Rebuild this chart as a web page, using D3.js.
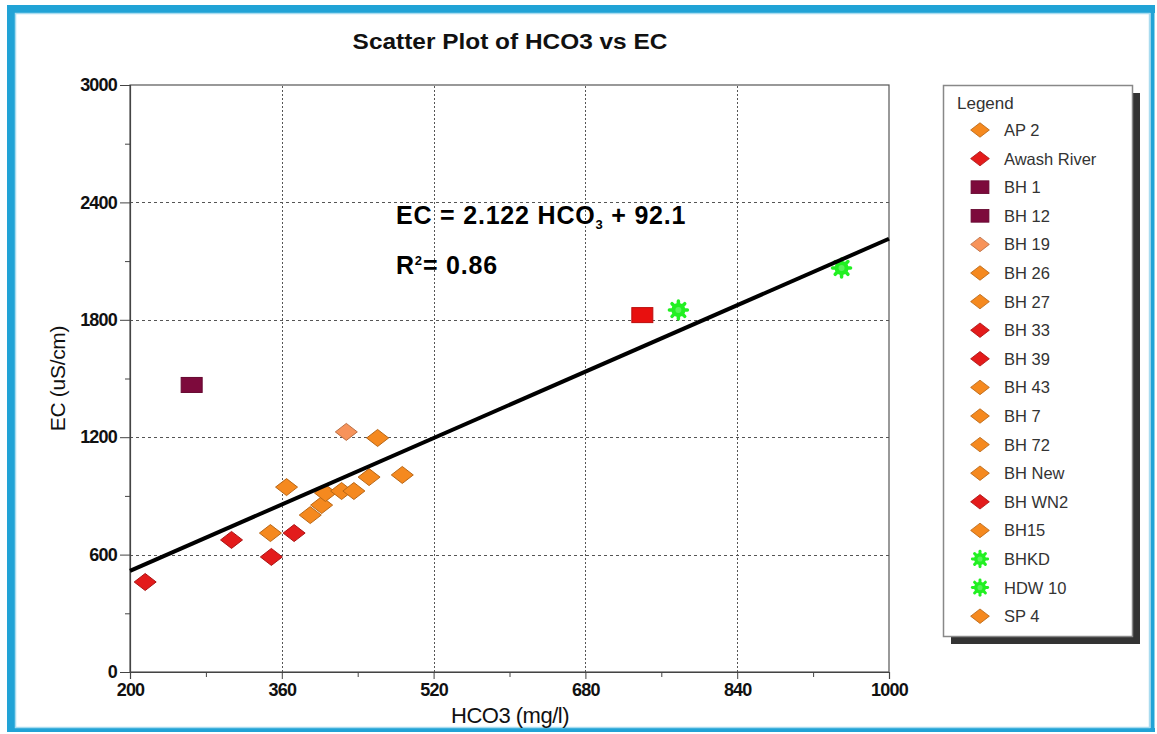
<!DOCTYPE html>
<html>
<head>
<meta charset="utf-8">
<script src="https://cdn.jsdelivr.net/npm/d3@7"></script>
<style>
  html, body { margin: 0; padding: 0; background: #fff; }
  svg { display: block; }
</style>
</head>
<body>
<svg id="chart" width="1157" height="734"></svg>
<script>
// Series shown in the legend, in order, with their marker shape and colour
const seriesNames = ["AP 2", "Awash River", "BH 1", "BH 12", "BH 19", "BH 26", "BH 27", "BH 33",
  "BH 39", "BH 43", "BH 7", "BH 72", "BH New", "BH WN2", "BH15", "BHKD", "HDW 10", "SP 4"];
const seriesShapes = ["diamond", "diamond", "square", "square", "diamond", "diamond", "diamond", "diamond",
  "diamond", "diamond", "diamond", "diamond", "diamond", "diamond", "diamond", "star", "star", "diamond"];
const seriesColors = ["#f5891f", "#e31b1b", "#7d0a3c", "#7d0a3c", "#f7935a", "#f5891f", "#f5891f", "#e31b1b",
  "#e31b1b", "#f5891f", "#f5891f", "#f5891f", "#f5891f", "#e31b1b", "#f5891f", "#22f022", "#22f022", "#f5891f"];

// Sample values: HCO3 (mg/l), EC (uS/cm), marker shape and fill
const hco3 = [216, 307, 349, 373, 348, 365, 390, 402, 406, 423, 436, 452, 487, 428, 461, 265, 740, 778, 950];
const ec = [460, 675, 588, 710, 710, 945, 802, 853, 915, 925, 925, 996, 1007, 1227, 1196, 1467, 1824, 1850, 2065];
const pointShapes = ["diamond", "diamond", "diamond", "diamond", "diamond", "diamond", "diamond", "diamond",
  "diamond", "diamond", "diamond", "diamond", "diamond", "diamond", "diamond", "square", "square", "star", "star"];
const pointColors = ["#e31b1b", "#e31b1b", "#e31b1b", "#e31b1b", "#f5891f", "#f5891f", "#f5891f", "#f5891f",
  "#f5891f", "#f5891f", "#f5891f", "#f5891f", "#f5891f", "#f7935a", "#f5891f", "#7d0a3c", "#e8100f", "#22f022", "#22f022"];

// Axis ticks and the fitted line EC = slope * HCO3 + intercept
const xTicks = [200, 360, 520, 680, 840, 1000];
const xMinorTicks = [280, 440, 600, 760, 920];
const yTicks = [0, 600, 1200, 1800, 2400, 3000];
const yMinorTicks = [300, 900, 1500, 2100, 2700];
const fitSlope = 2.122;
const fitIntercept = 92.1;

const svg = d3.select("#chart");
const sans = "'Liberation Sans', Arial, sans-serif";

const x = d3.scaleLinear().domain([200, 1000]).range([130, 889]);
const y = d3.scaleLinear().domain([0, 3000]).range([672, 85]);

// Page frame
svg.append("rect").attr("x", 0).attr("y", 0).attr("width", 1157).attr("height", 734).attr("fill", "#fff");
const frame = svg.append("g").attr("stroke", "#21a3d6");
frame.append("line").attr("x1", 7).attr("x2", 1155).attr("y1", 9).attr("y2", 9).attr("stroke-width", 8);
frame.append("line").attr("x1", 11).attr("x2", 11).attr("y1", 5).attr("y2", 732).attr("stroke-width", 8);
frame.append("line").attr("x1", 1152.5).attr("x2", 1152.5).attr("y1", 5).attr("y2", 732).attr("stroke-width", 4);
frame.append("line").attr("x1", 7).attr("x2", 1155).attr("y1", 730).attr("y2", 730).attr("stroke-width", 4);
const inner = svg.append("g").attr("stroke", "#a9dcf0").attr("stroke-width", 1.5).attr("fill", "none");
inner.append("rect").attr("x", 15.5).attr("y", 13.5).attr("width", 1134).attr("height", 714);

// Title
svg.append("text").attr("x", 510).attr("y", 49).attr("text-anchor", "middle")
  .attr("font-family", sans).attr("font-weight", "bold").attr("font-size", 22).attr("fill", "#111")
  .attr("transform", "translate(510,0) scale(1.11,1) translate(-510,0)")
  .text("Scatter Plot of HCO3 vs EC");

// Grid lines
const grid = svg.append("g").attr("stroke", "#555").attr("stroke-width", 1);
grid.selectAll(".hg").data(yTicks.filter(d => d > 0 && d < 3000)).join("line")
  .attr("x1", x(200)).attr("x2", x(1000)).attr("y1", d => Math.round(y(d)) + 0.5).attr("y2", d => Math.round(y(d)) + 0.5)
  .attr("stroke-dasharray", "3,3");
grid.selectAll(".vg").data(xTicks.filter(d => d > 200 && d < 1000)).join("line")
  .attr("y1", y(0)).attr("y2", y(3000)).attr("x1", d => Math.round(x(d)) + 0.5).attr("x2", d => Math.round(x(d)) + 0.5)
  .attr("stroke-dasharray", "2,2");

// Plot frame
svg.append("rect").attr("x", x(200)).attr("y", y(3000)).attr("width", x(1000) - x(200)).attr("height", y(0) - y(3000))
  .attr("fill", "none").attr("stroke", "#555").attr("stroke-width", 1.2);

// Axes
svg.append("g").attr("transform", `translate(0,${y(0)})`)
  .call(d3.axisBottom(x).tickValues(xTicks).tickSize(7).tickPadding(4).tickFormat(d3.format("d")));
svg.append("g").attr("transform", `translate(0,${y(0)})`)
  .call(d3.axisBottom(x).tickValues(xMinorTicks).tickSize(5).tickFormat(""))
  .call(g => g.select(".domain").remove());
svg.append("g").attr("transform", `translate(${x(200)},0)`)
  .call(d3.axisLeft(y).tickValues(yTicks).tickSize(10).tickPadding(3).tickFormat(d3.format("d")));
svg.append("g").attr("transform", `translate(${x(200)},0)`)
  .call(d3.axisLeft(y).tickValues(yMinorTicks).tickSize(5).tickFormat(""))
  .call(g => g.select(".domain").remove());
svg.selectAll(".domain").attr("stroke", "#444").attr("stroke-width", 1.2);
svg.selectAll(".tick line").attr("stroke", "#444");
svg.selectAll(".tick text").attr("font-family", sans).attr("font-weight", "bold").attr("font-size", 18)
  .attr("fill", "#111").attr("letter-spacing", -0.8);

// Axis titles
svg.append("text").attr("x", 510).attr("y", 723).attr("text-anchor", "middle")
  .attr("font-family", sans).attr("font-size", 22).attr("fill", "#111").attr("letter-spacing", -0.5).text("HCO3 (mg/l)");
svg.append("text").attr("transform", `translate(65,${(y(0) + y(3000)) / 2}) rotate(-90)`).attr("text-anchor", "middle")
  .attr("font-family", sans).attr("font-size", 21).attr("fill", "#111").attr("letter-spacing", -0.3).text("EC (uS/cm)");

// Marker drawing
function marker(g, shape, color) {
  if (shape === "diamond") {
    g.append("path").attr("d", "M-11,0 L0,-8.5 L11,0 L0,8.5 Z")
      .attr("fill", color).attr("stroke", d3.color(color).darker(0.8)).attr("stroke-width", 1);
  } else if (shape === "square") {
    g.append("rect").attr("x", -10.5).attr("y", -7.5).attr("width", 21).attr("height", 15)
      .attr("fill", color).attr("stroke", d3.color(color).darker(0.6)).attr("stroke-width", 1);
  } else {
    g.append("circle").attr("r", 7).attr("fill", color);
    for (let k = 0; k < 8; k++) {
      g.append("line").attr("x1", 0).attr("y1", 0)
        .attr("x2", 9 * Math.cos(k * Math.PI / 4)).attr("y2", 9 * Math.sin(k * Math.PI / 4))
        .attr("stroke", color).attr("stroke-width", 3.5).attr("stroke-linecap", "round");
    }
    g.append("circle").attr("r", 3).attr("fill", "#7df57d").attr("opacity", 0.6);
  }
}

// Data points
const points = svg.append("g");
hco3.forEach((v, i) => {
  const g = points.append("g").attr("transform", `translate(${x(v)},${y(ec[i])})`);
  marker(g, pointShapes[i], pointColors[i]);
});

// Regression line
svg.append("line")
  .attr("x1", x(200)).attr("y1", y(fitSlope * 200 + fitIntercept))
  .attr("x2", x(1000)).attr("y2", y(fitSlope * 1000 + fitIntercept))
  .attr("stroke", "#000").attr("stroke-width", 4);

// Equation and R²
const eq = svg.append("text").attr("x", 396).attr("y", 224)
  .attr("font-family", sans).attr("font-weight", "bold").attr("font-size", 25).attr("letter-spacing", 0.8).attr("fill", "#000");
eq.append("tspan").text(`EC = ${fitSlope} HCO`);
eq.append("tspan").attr("font-size", 13).attr("dy", 5).text("3");
eq.append("tspan").attr("dy", -5).text(` + ${fitIntercept}`);
const r2 = svg.append("text").attr("x", 396).attr("y", 274)
  .attr("font-family", sans).attr("font-weight", "bold").attr("font-size", 25).attr("letter-spacing", 0.8).attr("fill", "#000");
r2.append("tspan").text("R");
r2.append("tspan").attr("font-size", 13).attr("dy", -9).text("2");
r2.append("tspan").attr("dy", 9).text("= 0.86");

// Legend
const lg = svg.append("g");
lg.append("rect").attr("x", 951).attr("y", 93).attr("width", 189).attr("height", 551).attr("fill", "#333");
lg.append("rect").attr("x", 943.5).attr("y", 85.5).attr("width", 189).attr("height", 551)
  .attr("fill", "#fff").attr("stroke", "#888").attr("stroke-width", 1.5);
lg.append("text").attr("x", 957).attr("y", 109).attr("font-family", sans).attr("font-size", 17).attr("fill", "#333").text("Legend");
seriesNames.forEach((name, i) => {
  const yy = 130 + i * 28.6;
  const g = lg.append("g").attr("transform", `translate(980,${yy}) scale(0.85)`);
  marker(g, seriesShapes[i], seriesColors[i]);
  lg.append("text").attr("x", 1004).attr("y", yy + 6).attr("font-family", sans).attr("font-size", 16.5)
    .attr("fill", "#333").text(name);
});
</script>
</body>
</html>
